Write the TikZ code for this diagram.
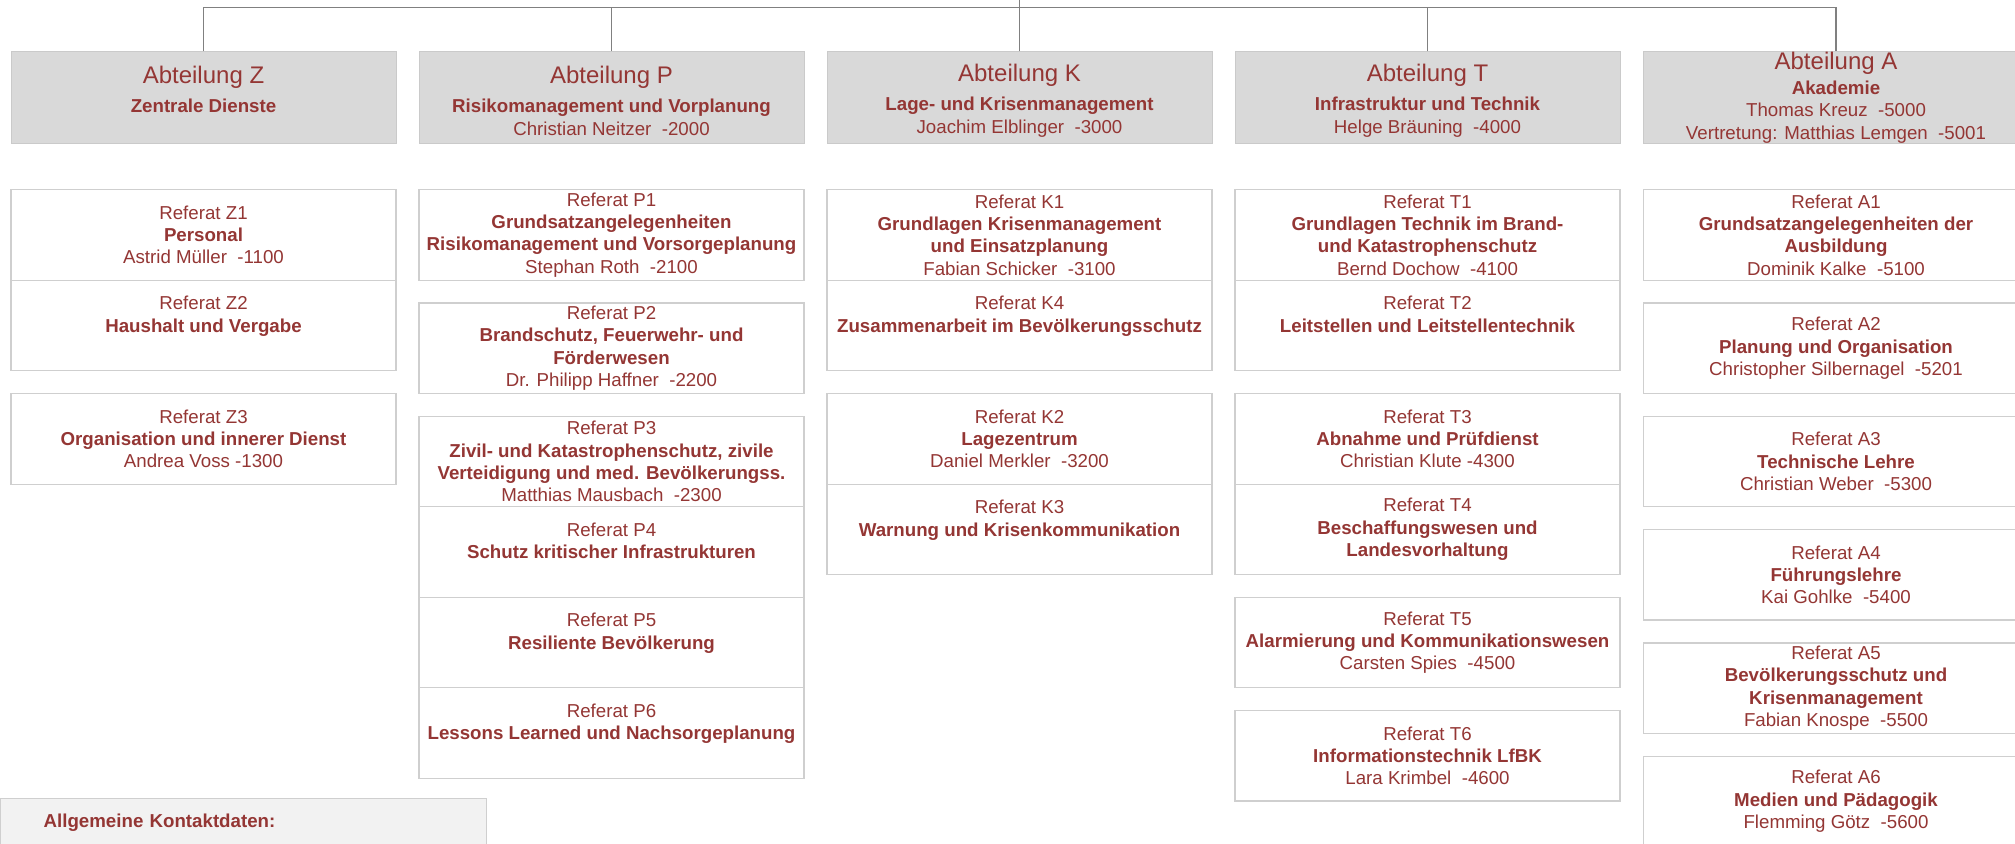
\documentclass[tikz,border=0pt]{standalone}
\usepackage{fontspec}
\setmainfont{Liberation Sans}
\usepackage{tikz}
\definecolor{deepred}{HTML}{943634}
\definecolor{boxline}{HTML}{CFCFCF}
\definecolor{headfill}{HTML}{D9D9D9}
\definecolor{headline}{HTML}{CACACA}
\definecolor{linkgray}{HTML}{808080}
\definecolor{notefill}{HTML}{F2F2F2}
\newcommand\refFont{\fontsize{18.7}{22.3}\selectfont}
\newcommand\abtFont{\fontsize{24}{28}\selectfont}
\newcommand\abtName[1]{{\abtFont\rule{0pt}{24pt}#1}}
\tikzset{
  orgLine/.style={draw=linkgray, line width=1.6pt},
  headBox/.style={fill=headfill, draw=headline, line width=1pt, minimum width=385pt,
    minimum height=91pt, inner sep=0pt, align=center, text=deepred, font=\refFont},
  refBox/.style={fill=white, draw=boxline, line width=1.3pt, minimum width=385pt,
    minimum height=90.5pt, inner sep=0pt, align=center, text=deepred, font=\refFont,
    anchor=north},
  noteBox/.style={fill=notefill, draw=boxline, line width=1.3pt, text width=400pt,
    inner xsep=43pt, inner ysep=0pt, minimum height=48pt, align=left, text=deepred,
    font=\refFont\bfseries, anchor=north west}
}

\begin{document}
\begin{tikzpicture}[x=1pt, y=-1pt]
  \useasboundingbox (0,0) rectangle (2015,843);
  \clip (0,0) rectangle (2015,843);
  \def\colZ{203.5}
  \def\colP{611.5}
  \def\colK{1019.5}
  \def\colT{1427.5}
  \def\colA{1836}

  % Abteilungen
  \node[headBox] (abtZ) at (\colZ,97.5) {\abtName{Abteilung Z}\\[6.7pt]\textbf{Zentrale Dienste}\\\mbox{}};
  \node[headBox] (abtP) at (\colP,97.5) {\abtName{Abteilung P}\\[6.7pt]\textbf{Risikomanagement und Vorplanung}\\Christian Neitzer~~-2000};
  \node[headBox] (abtK) at (\colK,97.5) {\abtName{Abteilung K}\\[6.7pt]\textbf{Lage- und Krisenmanagement}\\Joachim Elblinger~~-3000};
  \node[headBox] (abtT) at (\colT,97.5) {\abtName{Abteilung T}\\[6.7pt]\textbf{Infrastruktur und Technik}\\Helge Bräuning~~-4000};
  \node[headBox] (abtA) at (\colA,97.5) {{\abtFont Abteilung A}\\[2.7pt]\textbf{Akademie}\\Thomas Kreuz~~-5000\\Vertretung: Matthias Lemgen~~-5001};

  \coordinate (bus) at (0,7.5);
  \coordinate (chief) at (\colK,-10);
  \draw[orgLine] (abtZ.north) |- (abtA.north |- bus) -- (abtA.north);
  \draw[orgLine] (abtP.north) -- (abtP.north |- bus);
  \draw[orgLine] (abtT.north) -- (abtT.north |- bus);
  \draw[orgLine] (abtK.north) -- (chief);

  % Referate Z
  \node[refBox] (refZ1) at (\colZ,189) {Referat Z1\\\textbf{Personal}\\Astrid Müller~~-1100};
  \node[refBox] (refZ2) at (\colZ,279.5) {Referat Z2\\\textbf{Haushalt und Vergabe}\\\mbox{}};
  \node[refBox] (refZ3) at (\colZ,393) {Referat Z3\\\textbf{Organisation und innerer Dienst}\\Andrea Voss -1300};

  % Referate P
  \node[refBox] (refP1) at (\colP,189) {Referat P1\\\textbf{Grundsatzangelegenheiten}\\\textbf{Risikomanagement und Vorsorgeplanung}\\Stephan Roth~~-2100};
  \node[refBox] (refP2) at (\colP,302.3) {Referat P2\\\textbf{Brandschutz, Feuerwehr- und}\\\textbf{Förderwesen}\\Dr. Philipp Haffner~~-2200};
  \node[refBox] (refP3) at (\colP,415.6) {Referat P3\\\textbf{Zivil- und Katastrophenschutz, zivile}\\\textbf{Verteidigung und med. Bevölkerungss.}\\Matthias Mausbach~~-2300};
  \node[refBox] (refP4) at (\colP,506.1) {Referat P4\\\textbf{Schutz kritischer Infrastrukturen}\\\mbox{}};
  \node[refBox] (refP5) at (\colP,596.6) {Referat P5\\\textbf{Resiliente Bevölkerung}\\\mbox{}};
  \node[refBox] (refP6) at (\colP,687.1) {Referat P6\\\textbf{Lessons Learned und Nachsorgeplanung}\\\mbox{}};

  % Referate K
  \node[refBox] (refK1) at (\colK,189) {Referat K1\\\textbf{Grundlagen Krisenmanagement}\\\textbf{und Einsatzplanung}\\Fabian Schicker~~-3100};
  \node[refBox] (refK4) at (\colK,279.5) {Referat K4\\\textbf{Zusammenarbeit im Bevölkerungsschutz}\\\mbox{}};
  \node[refBox] (refK2) at (\colK,393) {Referat K2\\\textbf{Lagezentrum}\\Daniel Merkler~~-3200};
  \node[refBox] (refK3) at (\colK,483.5) {Referat K3\\\textbf{Warnung und Krisenkommunikation}\\\mbox{}};

  % Referate T
  \node[refBox] (refT1) at (\colT,189) {Referat T1\\\textbf{Grundlagen Technik im Brand-}\\\textbf{und Katastrophenschutz}\\Bernd Dochow~~-4100};
  \node[refBox] (refT2) at (\colT,279.5) {Referat T2\\\textbf{Leitstellen und Leitstellentechnik}\\\mbox{}};
  \node[refBox] (refT3) at (\colT,393) {Referat T3\\\textbf{Abnahme und Prüfdienst}\\Christian Klute -4300};
  \node[refBox] (refT4) at (\colT,483.5) {Referat T4\\\textbf{Beschaffungswesen und}\\\textbf{Landesvorhaltung}};
  \node[refBox] (refT5) at (\colT,596.6) {Referat T5\\\textbf{Alarmierung und Kommunikationswesen}\\Carsten Spies~~-4500};
  \node[refBox] (refT6) at (\colT,709.9) {Referat T6\\\textbf{Informationstechnik LfBK}\\Lara Krimbel~~-4600};

  % Referate A
  \node[refBox] (refA1) at (\colA,189) {Referat A1\\\textbf{Grundsatzangelegenheiten der}\\\textbf{Ausbildung}\\Dominik Kalke~~-5100};
  \node[refBox] (refA2) at (\colA,302.3) {Referat A2\\\textbf{Planung und Organisation}\\Christopher Silbernagel~~-5201};
  \node[refBox] (refA3) at (\colA,415.6) {Referat A3\\\textbf{Technische Lehre}\\Christian Weber~~-5300};
  \node[refBox] (refA4) at (\colA,528.9) {Referat A4\\\textbf{Führungslehre}\\Kai Gohlke~~-5400};
  \node[refBox] (refA5) at (\colA,642.2) {Referat A5\\\textbf{Bevölkerungsschutz und}\\\textbf{Krisenmanagement}\\Fabian Knospe~~-5500};
  \node[refBox] (refA6) at (\colA,755.5) {Referat A6\\\textbf{Medien und Pädagogik}\\Flemming Götz~~-5600};

  \node[noteBox] (kontakt) at (0,798) {Allgemeine Kontaktdaten:};
\end{tikzpicture}
\end{document}
